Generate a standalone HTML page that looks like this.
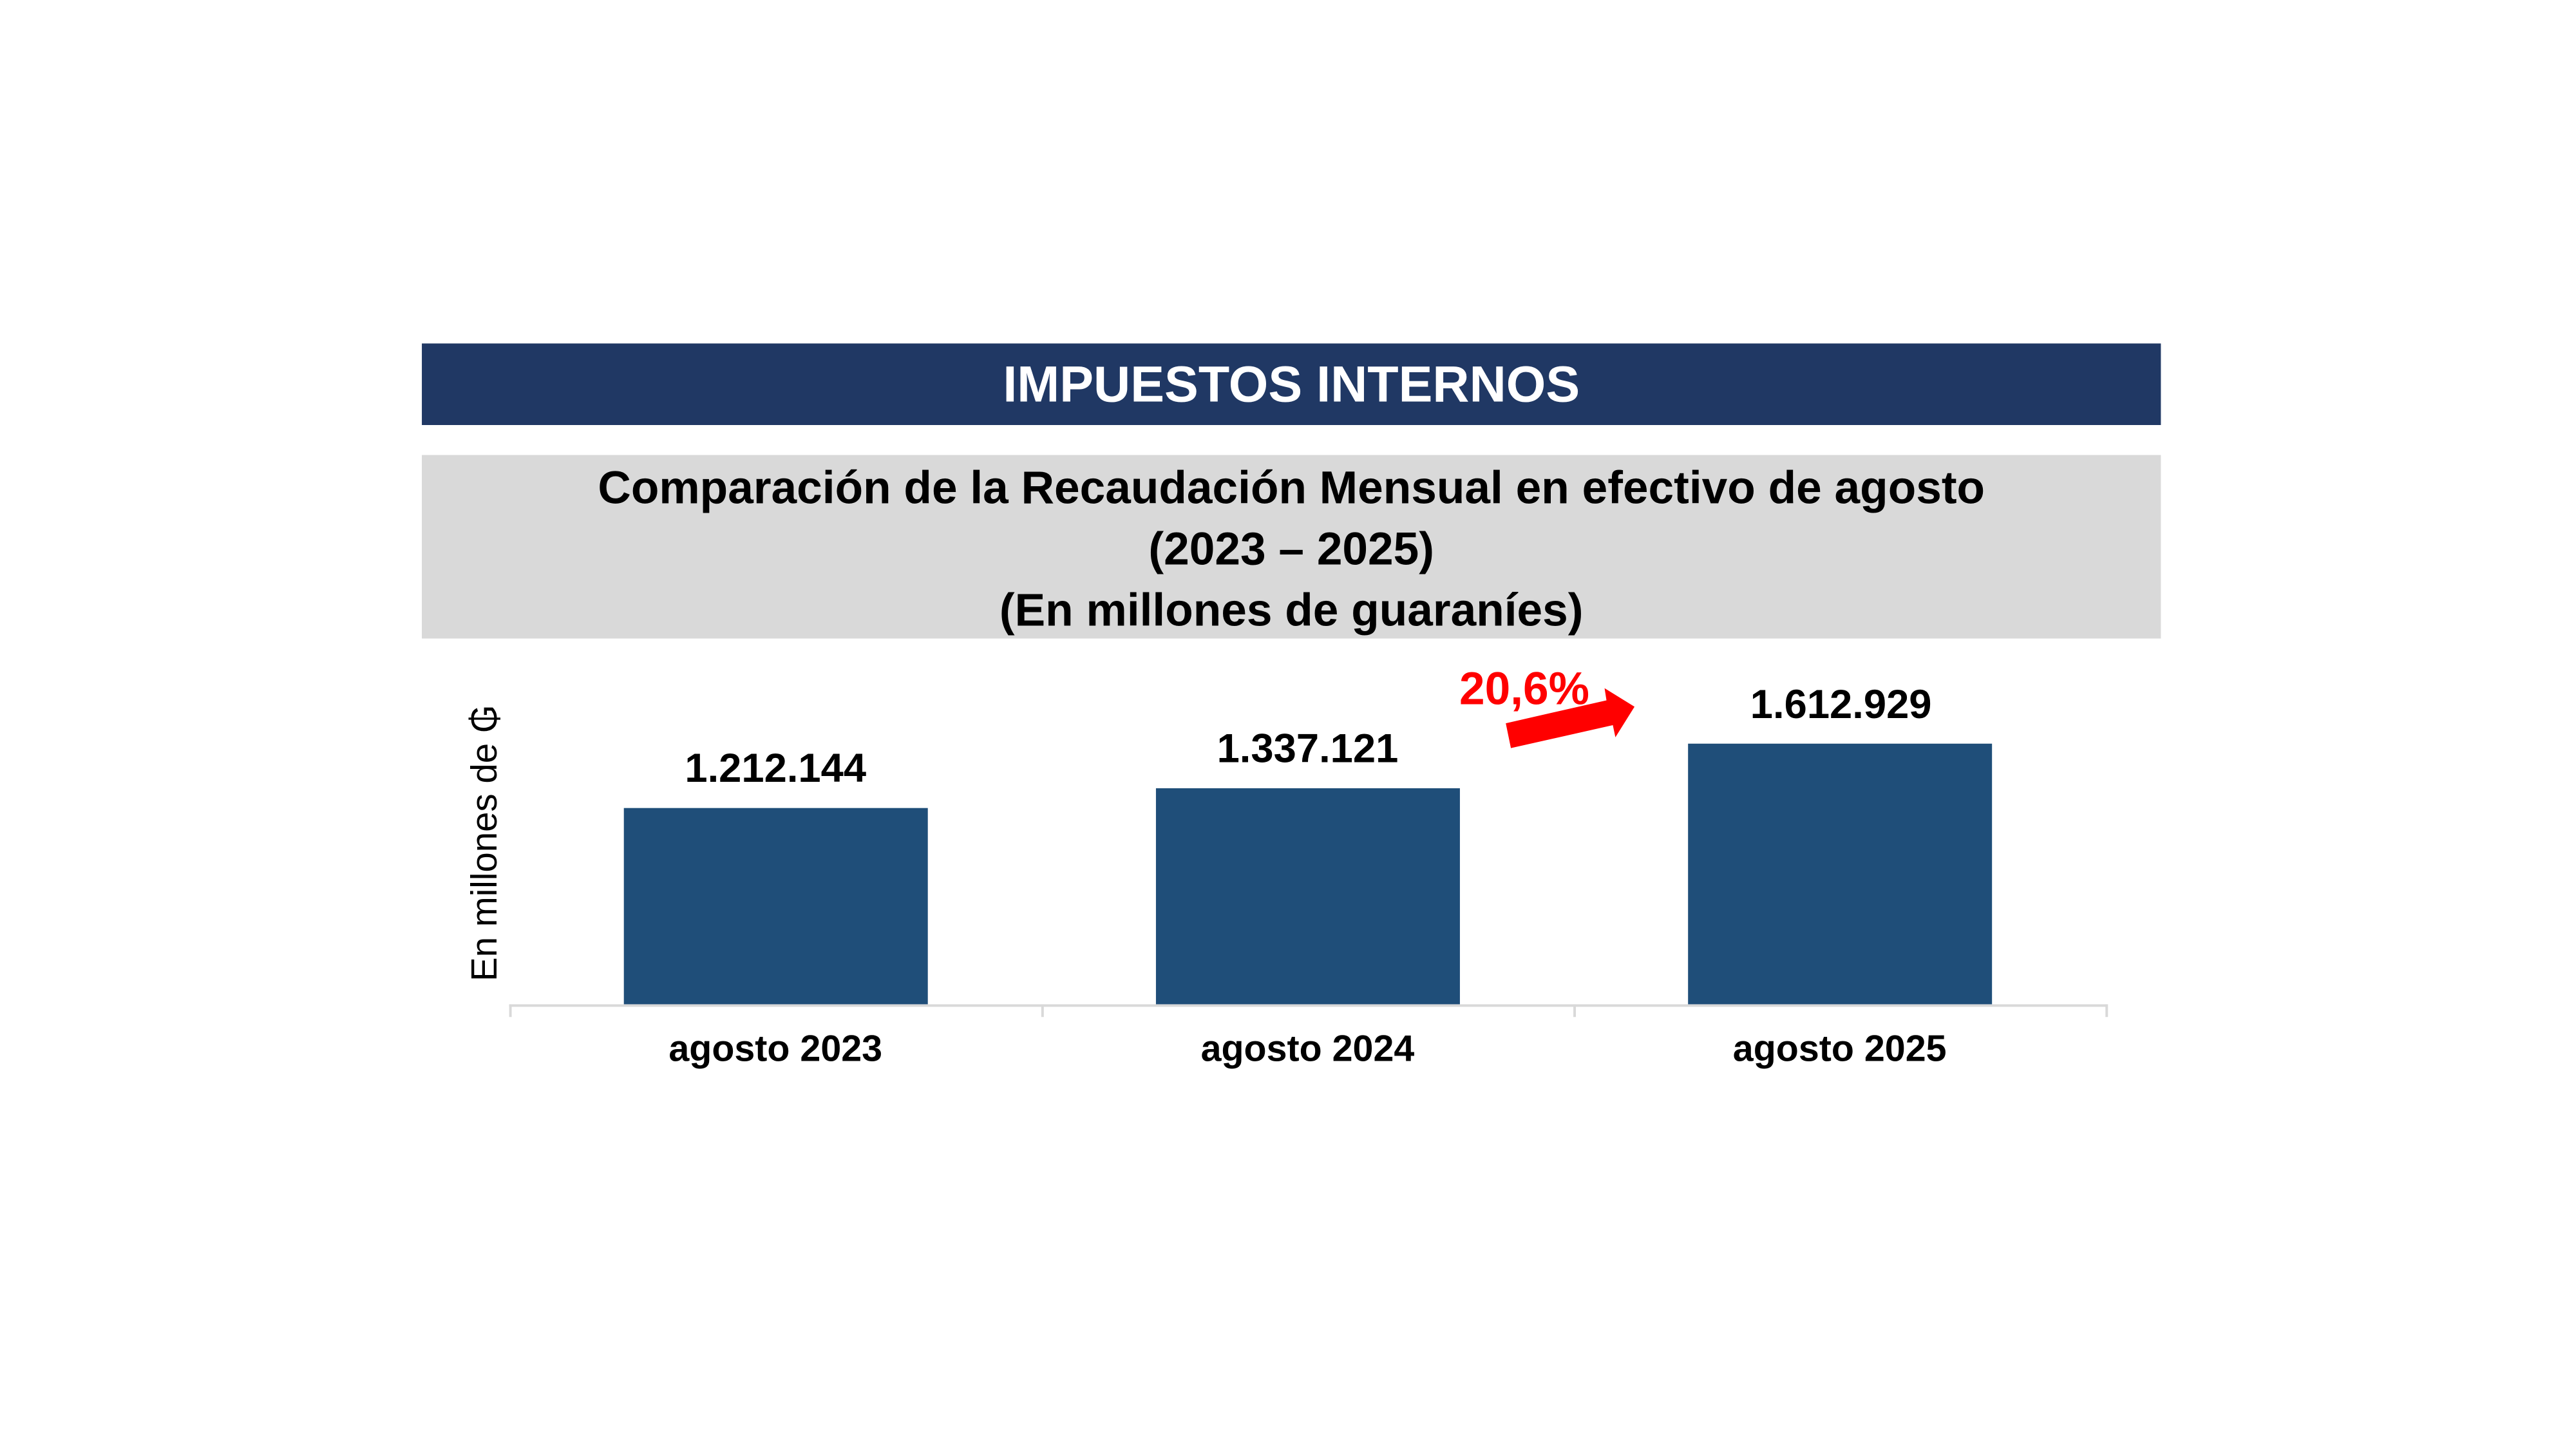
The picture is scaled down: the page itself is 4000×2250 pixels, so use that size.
<!DOCTYPE html>
<html><head><meta charset="utf-8"><style>
body{margin:0;width:4000px;height:2250px;background:#fff;overflow:hidden;position:relative;font-family:"Liberation Sans",sans-serif}
div{position:absolute}
.c{text-align:center;white-space:nowrap}
#w{left:0;top:0;width:4000px;height:2250px;transform:scale(0.9895);transform-origin:0 0}
</style></head><body><div id="w">
<div style="left:662px;top:539px;width:2729px;height:128px;background:#203864"></div>
<div class="c" style="left:662px;top:539px;width:2729px;height:128px;line-height:128px;color:#fff;font-weight:bold;font-size:80px">IMPUESTOS INTERNOS</div>
<div style="left:662px;top:714px;width:2729px;height:288px;background:#d9d9d9"></div>
<div class="c" style="left:662px;top:718px;width:2729px;line-height:96px;font-weight:bold;font-size:72px;color:#000">Comparación de la Recaudación Mensual en efectivo de agosto<br>(2023 – 2025)<br>(En millones de guaraníes)</div>
<div style="left:979px;top:1268px;width:477px;height:308px;background:#1f4e79"></div>
<div style="left:1814px;top:1237px;width:477px;height:339px;background:#1f4e79"></div>
<div style="left:2649px;top:1167px;width:477px;height:409px;background:#1f4e79"></div>
<div style="left:799px;top:1576px;width:2508px;height:4px;background:#d9d9d9"></div>
<div style="left:799px;top:1576px;width:4px;height:20px;background:#d9d9d9"></div>
<div style="left:1634px;top:1576px;width:4px;height:20px;background:#d9d9d9"></div>
<div style="left:2469px;top:1576px;width:4px;height:20px;background:#d9d9d9"></div>
<div style="left:3304px;top:1576px;width:4px;height:20px;background:#d9d9d9"></div>
<div class="c" style="left:917px;top:1168px;width:600px;font-weight:bold;font-size:64px">1.212.144</div>
<div class="c" style="left:1752px;top:1137px;width:600px;font-weight:bold;font-size:64px">1.337.121</div>
<div class="c" style="left:2589px;top:1068px;width:600px;font-weight:bold;font-size:64px">1.612.929</div>
<div class="c" style="left:917px;top:1612px;width:600px;font-weight:bold;font-size:58px">agosto 2023</div>
<div class="c" style="left:1752px;top:1612px;width:600px;font-weight:bold;font-size:58px">agosto 2024</div>
<div class="c" style="left:2587px;top:1612px;width:600px;font-weight:bold;font-size:58px">agosto 2025</div>
<div class="c" style="left:2290px;top:1040px;width:200px;font-weight:bold;font-size:72px;color:#f00">20,6%</div>
<svg style="position:absolute;left:0;top:0" width="4000" height="2250"><polygon points="2363,1135 2521,1099 2518,1080 2565,1109 2535,1157 2531,1138 2371,1174" fill="#f00"/></svg>
<div class="c" style="left:760px;top:1322px;width:0;height:0"><div style="left:-300px;top:-32px;width:600px;font-size:57px;transform:rotate(-90deg);text-align:center">En millones de ₲</div></div>
</div></body></html>
